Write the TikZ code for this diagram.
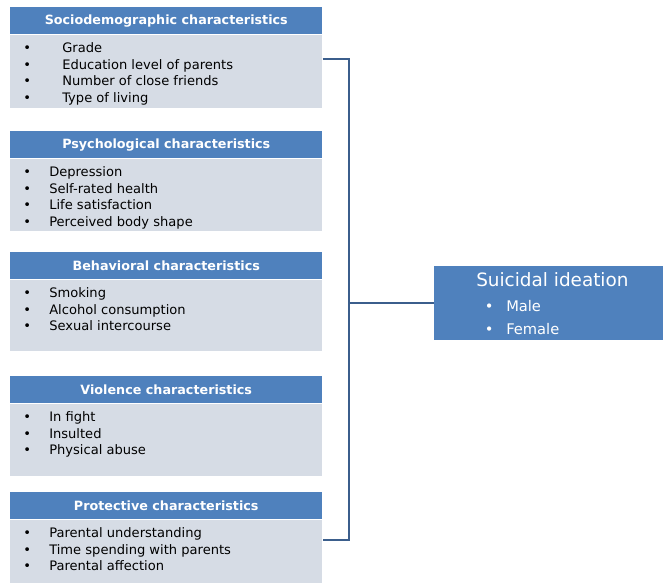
\documentclass[tikz,border=0pt]{standalone}
\usepackage{fontspec}
\setmainfont{DejaVu Sans}
\usepackage{xcolor}
\usetikzlibrary{positioning}

\definecolor{headblue}{HTML}{4F81BD}
\definecolor{bodygrey}{HTML}{D6DCE5}
\definecolor{linkblue}{HTML}{3B5E8C}

% list inside a grey box: height, bullet indent, items
\newcommand{\blist}[3]{\parbox[c][#1][t]{234pt}{\leftskip=9.75pt\vspace*{4.8pt}%
    \def\itm##1{\makebox[#2][l]{\textbullet}\strut##1\par}#3}}

\begin{document}
\begin{tikzpicture}[x=0.75pt, y=-0.75pt,
    head/.style={fill=headblue, text=white, font=\bfseries\fontsize{9.55}{12}\selectfont,
        minimum width=234pt, minimum height=20.25pt, inner sep=0pt, anchor=north west},
    body/.style={fill=bodygrey, font=\fontsize{9.8}{12.4}\selectfont, inner sep=0pt},
    result/.style={fill=headblue, text=white, inner sep=0pt, anchor=north west},
    link/.style={draw=linkblue, line width=1.6pt}]

    \useasboundingbox (0,0) rectangle (663,582);

    % Groups of characteristics: blue title bar with the list under it
    \node[head] (head1) at (10,7) {Sociodemographic characteristics};
    \node[body, below=0pt of head1] (body1) {\blist{54.75pt}{29.25pt}{%
        \itm{Grade}\itm{Education level of parents}\itm{Number of close friends}\itm{Type of living}}};

    \node[head] (head2) at (10,131) {Psychological characteristics};
    \node[body, below=0pt of head2] (body2) {\blist{54pt}{19.5pt}{%
        \itm{Depression}\itm{Self-rated health}\itm{Life satisfaction}\itm{Perceived body shape}}};

    \node[head] (head3) at (10,252) {Behavioral characteristics};
    \node[body, below=0pt of head3] (body3) {\blist{53.25pt}{19.5pt}{%
        \itm{Smoking}\itm{Alcohol consumption}\itm{Sexual intercourse}}};

    \node[head] (head4) at (10,376) {Violence characteristics};
    \node[body, below=0pt of head4] (body4) {\blist{54pt}{19.5pt}{%
        \itm{In fight}\itm{Insulted}\itm{Physical abuse}}};

    \node[head] (head5) at (10,492) {Protective characteristics};
    \node[body, below=0pt of head5] (body5) {\blist{48pt}{19.5pt}{%
        \itm{Parental understanding}\itm{Time spending with parents}\itm{Parental affection}}};

    % Outcome box
    \node[result] (result) at (434,266) {\parbox[c][55.5pt][t]{171.75pt}{\leftskip=31.5pt
        \vspace*{3.1pt}{\fontsize{13.8}{17}\selectfont\strut Suicidal ideation\par}
        \fontsize{11}{17.25}\selectfont
        \vspace*{1.5pt}\hspace*{6.4pt}\makebox[16.1pt][l]{\textbullet}\strut Male\par
        \hspace*{6.4pt}\makebox[16.1pt][l]{\textbullet}\strut Female\par}};

    % Bracket joining the groups to the outcome
    \coordinate (top) at (349,59);
    \coordinate (bot) at (349,540);
    \draw[link] (body1.east |- top) -- (top) -- (bot) -- (body5.east |- bot);
    \draw[link] (top |- result.west) -- (result.west);
\end{tikzpicture}
\end{document}
